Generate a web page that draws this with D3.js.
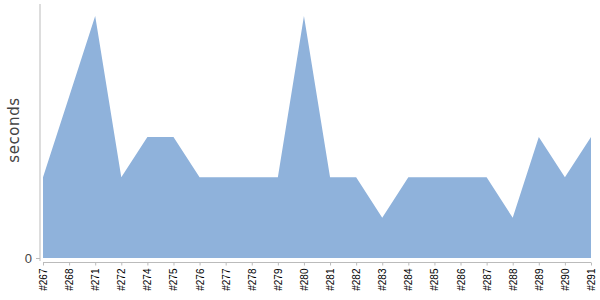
<!DOCTYPE html>
<html>
<head>
<meta charset="utf-8">
<script src="https://cdn.jsdelivr.net/npm/d3@7"></script>
<style>
  body { margin: 0; background: white; }
  svg { font-family: 'DejaVu Sans', sans-serif; }
</style>
</head>
<body>
<div id="chart"></div>
<script>
// build ids along the x axis
var builds = ['#267', '#268', '#271', '#272', '#274', '#275', '#276', '#277', '#278', '#279', '#280',
    '#281', '#282', '#283', '#284', '#285', '#286', '#287', '#288', '#289', '#290', '#291'];
// duration of each build
var seconds = [2, 4, 6, 2, 3, 3, 2, 2, 2, 2, 6, 2, 2, 1, 2, 2, 2, 2, 1, 3, 2, 3];
var yTicks = [0];

var width = 600, height = 300;
var margins = { left: 43, right: 9, top: 4, bottom: 42 };

var svg = d3.select('#chart').append('svg')
    .attr('width', width).attr('height', height);

var x = d3.scalePoint()
    .domain(builds)
    .range([margins.left, width - margins.right]);
var y = d3.scaleLinear()
    .domain([0, 6.3])
    .range([height - margins.bottom, margins.top]);

var area = d3.area()
    .x(function(d, i) { return x(builds[i]); })
    .y0(y(0))
    .y1(function(d) { return y(d); });

svg.append('path')
    .datum(seconds)
    .attr('d', area)
    .style('fill', '#8fb2db');

// y axis
var yAxis = svg.append('g')
    .attr('transform', 'translate(40,0)')
    .call(d3.axisLeft(y).tickValues(yTicks).tickFormat(d3.format('d')).tickSize(4).tickPadding(4));
yAxis.select('.domain').remove();
yAxis.append('line')
    .attr('x1', 0).attr('x2', 0)
    .attr('y1', margins.top).attr('y2', y(0) + 3)
    .style('stroke', '#bbb');
yAxis.selectAll('.tick line').style('stroke', '#bbb');
yAxis.selectAll('.tick text').style('fill', '#444').style('font-size', '13px');

// x axis
var xAxis = svg.append('g')
    .attr('transform', 'translate(0,' + (y(0) + 4.5) + ')')
    .call(d3.axisBottom(x).tickSizeOuter(0).tickSize(3).tickPadding(4));
xAxis.select('.domain').style('stroke', '#bbb').attr('d', 'M' + x(builds[0]) + ',0H' + x(builds[builds.length - 1]));
xAxis.selectAll('.tick line').style('stroke', '#bbb');
xAxis.selectAll('.tick text')
    .style('fill', 'black')
    .style('font-size', '10px')
    .style('text-anchor', 'end')
    .attr('transform', 'rotate(-90)')
    .attr('x', -6).attr('y', 0).attr('dy', '0.35em');

svg.append('text')
    .attr('transform', 'rotate(-90)')
    .attr('x', -130).attr('y', 19)
    .style('text-anchor', 'middle')
    .style('fill', '#444')
    .style('font-size', '15px')
    .style('letter-spacing', '0.6px')
    .text('seconds');
</script>
</body>
</html>
